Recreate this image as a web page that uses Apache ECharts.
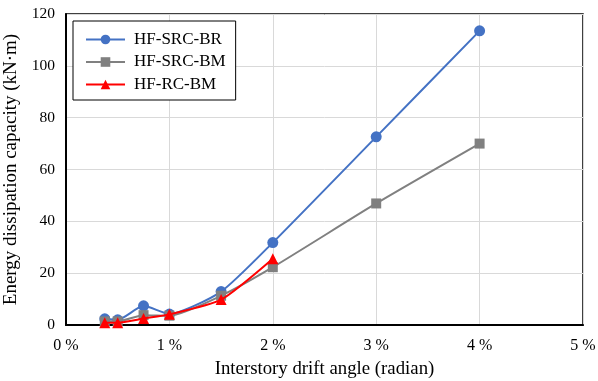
<!DOCTYPE html>
<html><head><meta charset="utf-8">
<script src="https://cdn.jsdelivr.net/npm/echarts@6/dist/echarts.min.js"></script>
<style>html,body{margin:0;padding:0;background:#fff}#c{width:598px;height:381px}</style>
</head><body><div id="c"></div>
<script>
const seriesNames = ['HF-SRC-BR', 'HF-SRC-BM', 'HF-RC-BM'];
const driftBR = [0.375, 0.5, 0.75, 1.0, 1.5, 2, 3, 4];
const energyBR = [2.4, 2.0, 7.4, 4.2, 12.9, 31.8, 72.6, 113.5];
const driftSRCBM = [0.375, 0.5, 0.75, 1.0, 1.5, 2, 3, 4];
const energySRCBM = [1.4, 1.4, 3.8, 3.6, 11.3, 22.3, 46.9, 70.0];
const driftRCBM = [0.375, 0.5, 0.75, 1.0, 1.5, 2];
const energyRCBM = [0.9, 0.9, 2.5, 4.1, 9.8, 25.6];
const xTicks = [0, 1, 2, 3, 4, 5];
const yTicks = [0, 20, 40, 60, 80, 100, 120];

const pair = (xs, ys) => xs.map((x, i) => [x, ys[i]]);
const font = 'Liberation Serif, Times New Roman, serif';
const chart = echarts.init(document.getElementById('c'), null, {renderer: 'canvas'});
chart.setOption({
  animation: false,
  textStyle: {fontFamily: font},
  grid: {left: 66, right: 15, top: 14, bottom: 56, show: true, borderColor: '#000', borderWidth: 1.5,
         containLabel: false, outerBoundsMode: 'none'},
  legend: {
    orient: 'vertical', left: 73, top: 21,
    padding: [10, 10, 7, 12], itemGap: 5.5, itemWidth: 39, itemHeight: 12,
    borderColor: '#000', borderWidth: 1, backgroundColor: '#fff',
    textStyle: {fontFamily: font, fontSize: 17, color: '#000', padding: [0, 0, 0, 4]},
    data: seriesNames
  },
  xAxis: {
    type: 'value', min: xTicks[0], max: xTicks[xTicks.length - 1], interval: 1,
    name: 'Interstory drift angle (radian)', nameLocation: 'middle', nameGap: 35,
    nameTextStyle: {fontFamily: font, fontSize: 18.8, color: '#000'},
    axisLine: {show: true, onZero: false, lineStyle: {color: '#000', width: 2}},
    axisTick: {show: false},
    axisLabel: {formatter: v => v + ' %', fontFamily: font, fontSize: 16, color: '#000', margin: 13},
    splitLine: {show: true, lineStyle: {color: '#d9d9d9', width: 1}}
  },
  yAxis: {
    type: 'value', min: yTicks[0], max: yTicks[yTicks.length - 1], interval: 20,
    name: 'Energy dissipation capacity (kN·m)', nameLocation: 'middle', nameGap: 39,
    nameTextStyle: {fontFamily: font, fontSize: 19, color: '#000'},
    axisLine: {show: true, lineStyle: {color: '#000', width: 2}},
    axisTick: {show: false},
    axisLabel: {fontFamily: font, fontSize: 15.5, color: '#000', margin: 11},
    splitLine: {show: true, lineStyle: {color: '#d9d9d9', width: 1}}
  },
  series: [
    {name: seriesNames[0], type: 'line', data: pair(driftBR, energyBR), smooth: 0.2,
     symbol: 'circle', symbolSize: 11, lineStyle: {color: '#4472C4', width: 2},
     itemStyle: {color: '#4472C4'}, z: 2},
    {name: seriesNames[1], type: 'line', data: pair(driftSRCBM, energySRCBM), smooth: 0.2,
     symbol: 'rect', symbolSize: 10, lineStyle: {color: '#808080', width: 2},
     itemStyle: {color: '#808080'}, z: 3},
    {name: seriesNames[2], type: 'line', data: pair(driftRCBM, energyRCBM), smooth: 0.2,
     symbol: 'triangle', symbolSize: 11, lineStyle: {color: '#FF0000', width: 2},
     itemStyle: {color: '#FF0000'}, z: 4}
  ]
});
</script></body></html>
